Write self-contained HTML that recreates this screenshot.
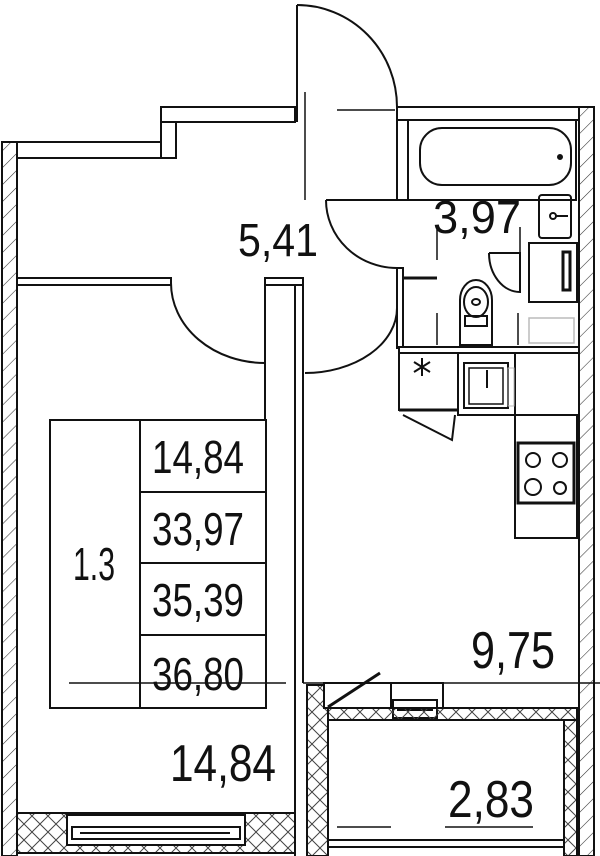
<!DOCTYPE html>
<html><head><meta charset="utf-8"><style>
html,body{margin:0;padding:0;background:#fff;}
svg{display:block;}
text{font-family:"Liberation Sans Narrow","Liberation Sans",sans-serif;fill:#111;}
</style></head><body>
<svg width="600" height="856" viewBox="0 0 600 856" xmlns="http://www.w3.org/2000/svg">
<defs>
<pattern id="h" width="12" height="12" patternUnits="userSpaceOnUse" patternTransform="rotate(45)">
<line x1="0" y1="0" x2="0" y2="12" stroke="#333" stroke-width="1.1"/>
</pattern>
<pattern id="x" width="16" height="16" patternUnits="userSpaceOnUse">
<path d="M0 0L16 16M16 0L0 16" stroke="#444" stroke-width="1"/>
</pattern>
</defs>
<g fill="none" stroke="#111" stroke-width="2">
<rect x="2" y="142" width="15" height="714" fill="url(#h)"/>
<rect x="579" y="107" width="15" height="749" fill="url(#h)"/>
<rect x="17" y="142" width="159" height="16" fill="#fff"/>
<rect x="161" y="107" width="15" height="51" fill="#fff"/>
<rect x="161" y="107" width="134" height="15" fill="#fff"/>
<rect x="397" y="107" width="182" height="13" fill="#fff"/>
<line x1="297" y1="5" x2="297" y2="122"/>
<path d="M297 5 A100 102 0 0 1 397 107"/>
<line x1="305" y1="92" x2="305" y2="200" stroke-width="1.5"/>
<line x1="337" y1="110" x2="395" y2="110" stroke-width="1.5"/>
<rect x="397" y="120" width="11" height="80" fill="#fff"/>
<rect x="408" y="120" width="168" height="80"/>
<rect x="420" y="128" width="151" height="57" rx="22"/>
<circle cx="560" cy="157" r="2" fill="#111"/>
<line x1="326" y1="200" x2="397" y2="200"/>
<path d="M326 200 A71 68 0 0 0 397 268"/>
<rect x="397" y="268" width="6" height="80" fill="#fff"/>
<line x1="403" y1="278" x2="437" y2="278" stroke-width="3"/>
<line x1="437" y1="227" x2="437" y2="260" stroke-width="1.5"/>
<line x1="437" y1="313" x2="437" y2="345" stroke-width="1.5"/>
<rect x="539" y="195" width="32" height="43" rx="3"/>
<circle cx="553" cy="216" r="3"/>
<line x1="556" y1="216" x2="568" y2="216"/>
<rect x="529" y="243" width="48" height="59"/>
<rect x="563" y="252" width="7" height="38" stroke-width="3"/>
<path d="M489 253 L520 253 L520 292 A31 39 0 0 1 489 253"/>
<line x1="520" y1="227" x2="520" y2="260" stroke-width="1.5"/>
<line x1="518" y1="313" x2="518" y2="345" stroke-width="1.5"/>
<rect x="529" y="318" width="45" height="25" stroke="#bbb" stroke-width="1.5"/>
<path d="M460 345 L460 300 A16 20 0 0 1 492 300 L492 345 Z"/>
<ellipse cx="476" cy="302" rx="12" ry="15"/>
<ellipse cx="476" cy="302" rx="4" ry="3"/>
<rect x="465" y="316" width="22" height="10"/>
<rect x="399" y="347" width="180" height="6" fill="#fff"/>
<rect x="399" y="353" width="59" height="57"/>
<line x1="399" y1="410" x2="458" y2="410" stroke-width="3"/>
<path d="M422 358 L422 376 M414 362 L430 372 M430 362 L414 372" stroke-width="2"/>
<rect x="458" y="353" width="57" height="62"/>
<rect x="464" y="363" width="44" height="45" stroke-width="2"/>
<rect x="469" y="368" width="34" height="36" stroke-width="1.5"/>
<line x1="487" y1="370" x2="487" y2="388"/>
<rect x="508" y="368" width="6" height="38" stroke="#bbb" stroke-width="1"/>
<path d="M403 415 L452 440 L455 415"/>
<rect x="515" y="415" width="62" height="123"/>
<line x1="546" y1="415" x2="577" y2="415"/>
<rect x="518" y="443" width="56" height="60" stroke-width="3"/>
<circle cx="533" cy="460" r="7"/><circle cx="560" cy="460" r="7"/>
<circle cx="533" cy="487" r="8"/><circle cx="560" cy="488" r="6"/>
<rect x="17" y="278" width="154" height="7" fill="#fff"/>
<path d="M171 283 A94 80 0 0 0 265 363"/>
<rect x="265" y="278" width="38" height="7" fill="#fff"/>
<line x1="265" y1="285" x2="265" y2="420"/>
<line x1="295" y1="285" x2="295" y2="856"/>
<line x1="303" y1="285" x2="303" y2="683"/>
<path d="M397 308 A92 65 0 0 1 305 373"/>
<rect x="50" y="420" width="216" height="288"/>
<line x1="140" y1="420" x2="140" y2="708"/>
<line x1="140" y1="492" x2="266" y2="492"/>
<line x1="140" y1="563" x2="266" y2="563"/>
<line x1="140" y1="635" x2="266" y2="635"/>
<line x1="69" y1="683" x2="286" y2="683" stroke-width="1.5"/>
<line x1="303" y1="683" x2="600" y2="683" stroke-width="1.5"/>
<rect x="307" y="685" width="21" height="171" fill="url(#x)"/>
<rect x="324" y="683" width="119" height="25" fill="#fff"/>
<rect x="391" y="683" width="52" height="25"/>
<rect x="393" y="700" width="44" height="18" fill="#fff"/>
<line x1="397" y1="709" x2="433" y2="709" stroke-width="4"/>
<line x1="328" y1="707" x2="380" y2="673" stroke-width="3"/>
<rect x="328" y="708" width="249" height="12" fill="url(#x)"/>
<rect x="328" y="720" width="236" height="120" fill="#fff"/>
<rect x="564" y="720" width="13" height="136" fill="url(#x)"/>
<line x1="328" y1="847" x2="564" y2="847"/>
<line x1="337" y1="827" x2="391" y2="827" stroke-width="1.5"/>
<line x1="445" y1="827" x2="533" y2="827" stroke-width="1.5"/>
<rect x="17" y="813" width="278" height="40" fill="url(#x)"/>
<rect x="67" y="815" width="178" height="30" fill="#fff"/>
<rect x="72" y="827" width="168" height="12" fill="#fff"/>
<line x1="80" y1="833" x2="230" y2="833" stroke-width="2"/>
</g>
<g font-size="46">
<text x="238" y="256" textLength="80" lengthAdjust="spacingAndGlyphs">5,41</text>
<text x="433" y="233" textLength="88" lengthAdjust="spacingAndGlyphs">3,97</text>
<text x="152" y="473" textLength="92" lengthAdjust="spacingAndGlyphs">14,84</text>
<text x="152" y="545" textLength="92" lengthAdjust="spacingAndGlyphs">33,97</text>
<text x="152" y="616" textLength="92" lengthAdjust="spacingAndGlyphs">35,39</text>
<text x="152" y="690" textLength="92" lengthAdjust="spacingAndGlyphs">36,80</text>
<text x="73" y="580" textLength="42" lengthAdjust="spacingAndGlyphs">1.3</text>
</g>
<g font-size="52">
<text x="170" y="781" textLength="106" lengthAdjust="spacingAndGlyphs">14,84</text>
<text x="471" y="668" textLength="84" lengthAdjust="spacingAndGlyphs">9,75</text>
<text x="448" y="817" textLength="86" lengthAdjust="spacingAndGlyphs">2,83</text>
</g>
</svg>
</body></html>
